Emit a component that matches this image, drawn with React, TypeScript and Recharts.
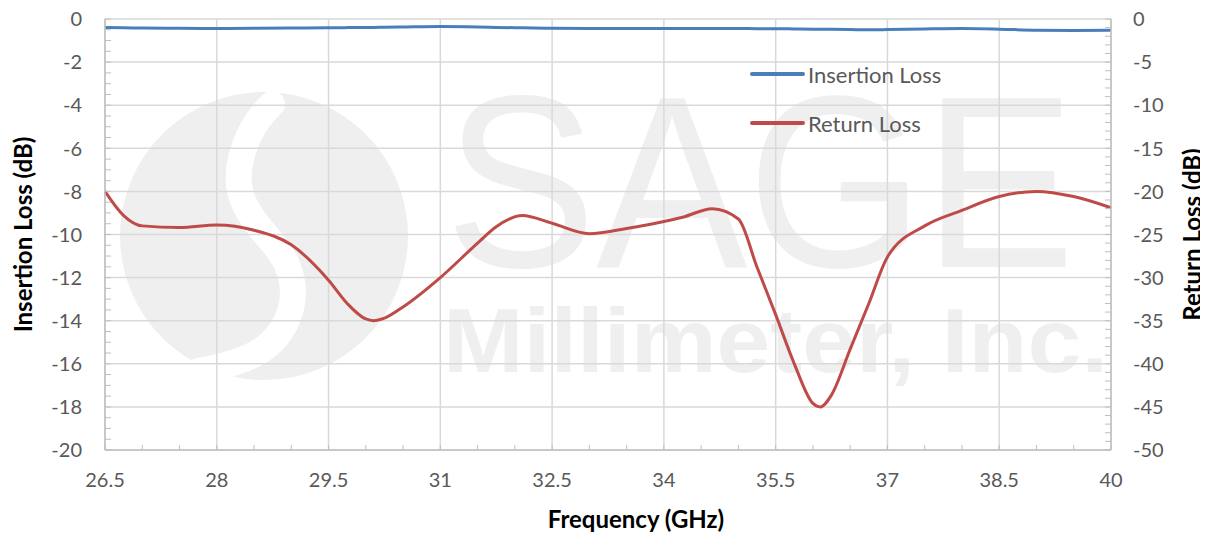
import React from "react";
import { LineChart, Line, XAxis, YAxis, CartesianGrid, Legend } from "recharts";

const FREQ = [
  26.5, 26.75, 27, 27.5, 28, 28.5, 29, 29.5, 29.75, 30, 30.1, 30.25, 30.5, 31, 31.5, 31.75, 32.1, 32.5, 33, 33.5,
  34, 34.25, 34.65, 35, 35.25, 35.5, 35.75, 36, 36.1, 36.25, 36.5, 36.75, 37, 37.5, 38, 38.5, 39, 39.5, 40,
];
const INSERTION_LOSS = [
  -0.4, -0.41, -0.42, -0.43, -0.44, -0.43, -0.42, -0.41, -0.4, -0.39, -0.39, -0.38, -0.37, -0.35, -0.37, -0.39,
  -0.41, -0.43, -0.44, -0.44, -0.44, -0.44, -0.44, -0.44, -0.45, -0.45, -0.46, -0.47, -0.47, -0.48, -0.49, -0.5,
  -0.49, -0.46, -0.44, -0.47, -0.52, -0.53, -0.52,
];
const RETURN_LOSS = [
  -20.0, -22.8, -24.0, -24.2, -23.9, -24.5, -26.2, -30.3, -33.0, -34.8, -35.0, -34.7, -33.4, -30.0, -26.0, -24.1,
  -22.8, -23.7, -24.9, -24.3, -23.5, -23.0, -22.0, -23.2, -28.8, -34.3, -40.0, -44.6, -45.0, -43.6, -38.3, -33.0,
  -27.6, -24.0, -22.2, -20.6, -20.0, -20.6, -21.9,
];

const X_TICKS = [26.5, 28, 29.5, 31, 32.5, 34, 35.5, 37, 38.5, 40];
const X_MINOR = Array.from({ length: 28 }, (_, i) => 26.5 + i * 0.5);
const IL_TICKS = [0, -2, -4, -6, -8, -10, -12, -14, -16, -18, -20];
const IL_MINOR = Array.from({ length: 41 }, (_, i) => -i * 0.5);
const RL_TICKS = [0, -5, -10, -15, -20, -25, -30, -35, -40, -45, -50];
const RL_MINOR = Array.from({ length: 51 }, (_, i) => -i);

const data = FREQ.map((f, i) => ({ f, il: INSERTION_LOSS[i], rl: RETURN_LOSS[i] }));

const FONT = "Lato, 'Open Sans', sans-serif";
const TICK_COLOR = "#595959";
const GRID = "#d9d9d9";
const AXIS = "#bfbfbf";
const TICK_SIZE = 20;
const TITLE_SIZE = 24;

const isIn = (arr: number[], v: number) => arr.some((t) => Math.abs(t - v) < 1e-6);

function XTick(props: any) {
  const { x, y, payload } = props;
  const axisY = y - 23;
  return (
    <g>
      <line x1={x} x2={x} y1={axisY} y2={axisY - 5} stroke={AXIS} />
      {isIn(X_TICKS, payload.value) && (
        <text x={x} y={y} dy="0.71em" textAnchor="middle" fill={TICK_COLOR} fontSize={TICK_SIZE} fontFamily={FONT}>
          {payload.value}
        </text>
      )}
    </g>
  );
}

function LeftTick(props: any) {
  const { x, y, payload } = props;
  const axisX = x + 23;
  return (
    <g>
      <line x1={axisX} x2={axisX + 6} y1={y} y2={y} stroke={AXIS} />
      {isIn(IL_TICKS, payload.value) && (
        <text x={x} y={y} dy="0.36em" textAnchor="end" fill={TICK_COLOR} fontSize={TICK_SIZE} fontFamily={FONT}>
          {payload.value}
        </text>
      )}
    </g>
  );
}

function RightTick(props: any) {
  const { x, y, payload } = props;
  const axisX = x - 22;
  return (
    <g>
      <line x1={axisX} x2={axisX - 6} y1={y} y2={y} stroke={AXIS} />
      {isIn(RL_TICKS, payload.value) && (
        <text x={x} y={y} dy="0.36em" textAnchor="start" fill={TICK_COLOR} fontSize={TICK_SIZE} fontFamily={FONT}>
          {payload.value}
        </text>
      )}
    </g>
  );
}

function renderLegend() {
  const items = [
    { name: "Insertion Loss", color: "#4a7ebb" },
    { name: "Return Loss", color: "#be4b48" },
  ];
  return (
    <div>
      {items.map((it) => (
        <div key={it.name} style={{ display: "flex", alignItems: "center", height: 24, marginBottom: 25 }}>
          <div style={{ width: 55, height: 4, background: it.color, borderRadius: 2, marginRight: 3 }} />
          <span style={{ fontFamily: FONT, fontSize: 22, color: TICK_COLOR }}>{it.name}</span>
        </div>
      ))}
    </div>
  );
}

function Watermark() {
  return (
    <svg width={1200} height={525} style={{ position: "absolute", left: 0, top: 0 }}>
      <circle cx={256} cy={228} r={144} fill="#efefef" />
      <path
        d="M 264 96 C 238 120, 222 165, 236 195 C 248 222, 272 236, 281 262 C 293 297, 276 336, 236 351 Q 216 359, 190 363"
        fill="none"
        stroke="#ffffff"
        strokeWidth={26}
        strokeLinecap="round"
      />
      <text
        x={437}
        y={259}
        fontSize={245}
        fontFamily="'Liberation Sans', Arial, sans-serif"
        fill="#efefef"
        textLength={630}
        lengthAdjust="spacingAndGlyphs"
      >
        SAGE
      </text>
      <text
        x={435}
        y={364}
        fontSize={90}
        fontWeight="bold"
        fontFamily="'Liberation Sans', Arial, sans-serif"
        fill="#efefef"
        textLength={665}
        lengthAdjust="spacingAndGlyphs"
      >
        Millimeter, Inc.
      </text>
    </svg>
  );
}

function verticalTitle(text: string, dxFromAxis: number) {
  return ({ viewBox }: any) => {
    const cx = viewBox.x + dxFromAxis;
    const cy = viewBox.y + viewBox.height / 2;
    return (
      <text
        x={cx}
        y={cy}
        transform={`rotate(-90, ${cx}, ${cy})`}
        textAnchor="middle"
        dominantBaseline="central"
        fontFamily={FONT}
        fontWeight="bold"
        fontSize={TITLE_SIZE}
        fill="#000"
      >
        {text}
      </text>
    );
  };
}

export default function App() {
  return (
    <div style={{ position: "relative", width: 1200, height: 525 }}>
      <Watermark />
      <div style={{ position: "absolute", left: 0, top: 0 }}>
        <LineChart
          width={1200}
          height={525}
          data={data}
          margin={{ top: 11, right: 0, bottom: 0, left: 0 }}
          style={{ overflow: "visible" }}
        >
          <CartesianGrid
            xAxisId="f"
            yAxisId="il"
            stroke={GRID}
            strokeWidth={1.5}
            horizontalValues={IL_TICKS}
            verticalValues={X_TICKS}
          />
          <XAxis
            xAxisId="f"
            dataKey="f"
            type="number"
            domain={[26.5, 40]}
            ticks={X_MINOR}
            interval={0}
            height={83}
            tickSize={0}
            tickMargin={23}
            tick={<XTick />}
            stroke={AXIS}
            strokeWidth={1.5}
            label={{
              content: ({ viewBox }: any) => (
                <text
                  x={viewBox.x + viewBox.width / 2 + 28}
                  y={520}
                  textAnchor="middle"
                  fontFamily={FONT}
                  fontWeight="bold"
                  fontSize={TITLE_SIZE}
                  fill="#000"
                >
                  Frequency (GHz)
                </text>
              ),
            }}
          />
          <YAxis
            yAxisId="il"
            domain={[-20, 0]}
            ticks={IL_MINOR}
            interval={0}
            width={97}
            tickSize={0}
            tickMargin={23}
            tick={<LeftTick />}
            stroke={AXIS}
            strokeWidth={1.5}
            label={{ content: verticalTitle("Insertion Loss (dB)", 14) }}
          />
          <YAxis
            yAxisId="rl"
            orientation="right"
            domain={[-50, 0]}
            ticks={RL_MINOR}
            interval={0}
            width={97}
            tickSize={0}
            tickMargin={22}
            tick={<RightTick />}
            stroke={AXIS}
            strokeWidth={1.5}
            label={{ content: verticalTitle("Return Loss (dB)", 80) }}
          />
          <Legend
            layout="vertical"
            align="center"
            verticalAlign="middle"
            content={renderLegend}
            wrapperStyle={{ left: 742, top: 54, width: 260 }}
          />
          <Line
            xAxisId="f"
            yAxisId="il"
            dataKey="il"
            name="Insertion Loss"
            type="monotone"
            stroke="#4a7ebb"
            strokeWidth={3}
            dot={false}
            isAnimationActive={false}
          />
          <Line
            xAxisId="f"
            yAxisId="rl"
            dataKey="rl"
            name="Return Loss"
            type="monotone"
            stroke="#be4b48"
            strokeWidth={3}
            dot={false}
            isAnimationActive={false}
          />
        </LineChart>
      </div>
    </div>
  );
}
